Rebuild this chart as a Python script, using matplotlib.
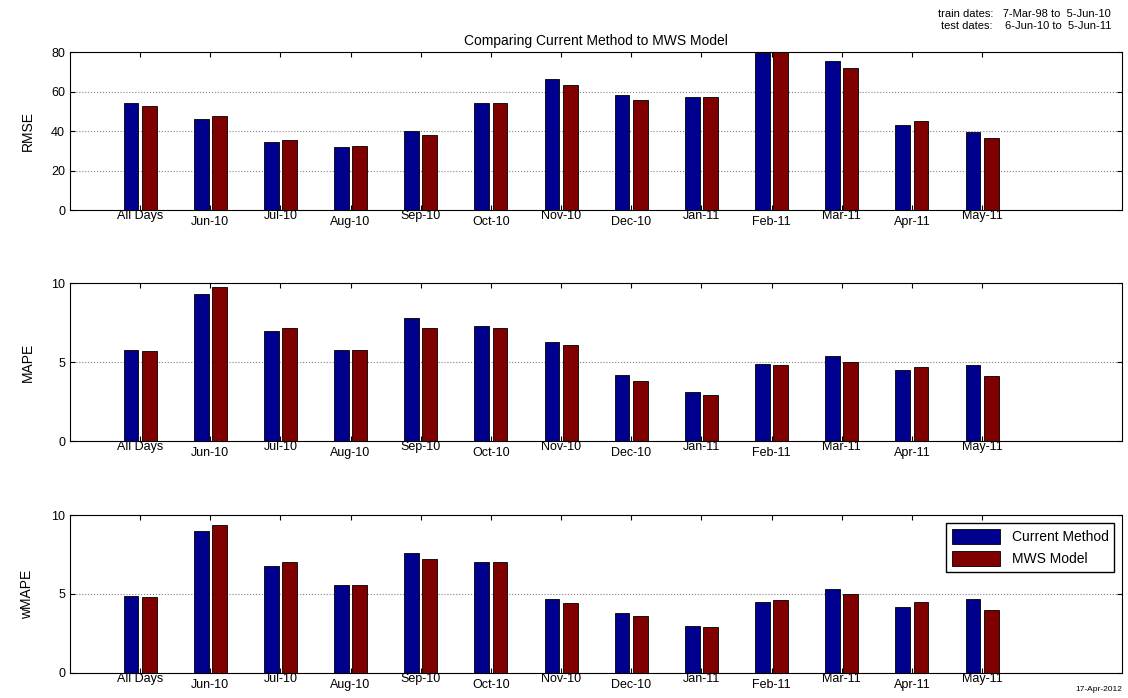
import numpy as np
import matplotlib.pyplot as plt

plt.rcParams['font.family'] = ['Liberation Sans', 'DejaVu Sans']

labels = ['All Days', 'Jun-10', 'Jul-10', 'Aug-10', 'Sep-10', 'Oct-10', 'Nov-10',
          'Dec-10', 'Jan-11', 'Feb-11', 'Mar-11', 'Apr-11', 'May-11']
rmse_cur = [54.5, 46, 34.5, 32, 40, 54.5, 66.5, 58.5, 57.5, 79.5, 75.5, 43, 39.5]
rmse_mws = [53, 47.5, 35.5, 32.5, 38, 54.5, 63.5, 56, 57.5, 80, 72, 45, 36.5]
mape_cur = [5.8, 9.3, 7.0, 5.8, 7.8, 7.3, 6.3, 4.2, 3.1, 4.9, 5.4, 4.5, 4.8]
mape_mws = [5.7, 9.8, 7.2, 5.8, 7.2, 7.2, 6.1, 3.8, 2.9, 4.8, 5.0, 4.7, 4.1]
wmape_cur = [4.9, 9.0, 6.8, 5.6, 7.6, 7.0, 4.7, 3.8, 3.0, 4.5, 5.3, 4.2, 4.7]
wmape_mws = [4.8, 9.4, 7.0, 5.6, 7.2, 7.0, 4.4, 3.6, 2.9, 4.6, 5.0, 4.5, 4.0]

blue = '#00008f'
red = '#800000'

fig = plt.figure(figsize=(11.28, 6.98), dpi=100)
x = np.arange(1, len(labels) + 1)
w = 0.21
off = 0.13

panels = [
    (rmse_cur, rmse_mws, 'RMSE', (0, 80), [0, 20, 40, 60, 80], 0.925),
    (mape_cur, mape_mws, 'MAPE', (0, 10), [0, 5, 10], 0.594),
    (wmape_cur, wmape_mws, 'wMAPE', (0, 10), [0, 5, 10], 0.262),
]
for i, (c, m, name, yl, yt, top) in enumerate(panels):
    ax = fig.add_axes([0.062, top - 0.226, 0.933, 0.226])
    ax.bar(x - off, c, w, color=blue, edgecolor='black', linewidth=0.6, label='Current Method', zorder=3)
    ax.bar(x + off, m, w, color=red, edgecolor='black', linewidth=0.6, label='MWS Model', zorder=3)
    ax.set_xlim(0, 15)
    ax.set_ylim(*yl)
    ax.set_yticks(yt)
    ax.set_ylabel(name, fontsize=10, labelpad=12)
    ax.yaxis.grid(True, linestyle=':', color='gray', linewidth=0.8)
    ax.tick_params(axis='both', labelsize=9, direction='in', right=True, top=True)
    ax.tick_params(axis='x', pad=0)
    ax.set_xticks(x)
    ax.set_xticklabels(labels)
    for k, t in enumerate(ax.get_xticklabels()):
        t.set_y(0.0 if k % 2 == 0 else -0.04)
        t.set_x(x[k] - 0.05)
    if i == 0:
        ax.set_title('Comparing Current Method to MWS Model', fontsize=10, pad=5)
    if i == 2:
        ax.legend(loc='upper right', fontsize=10, handlelength=3.5, handleheight=1.3,
                  fancybox=False, edgecolor='black', framealpha=1, borderaxespad=0.6)

fig.text(0.985, 0.975, 'train dates:   7-Mar-98 to  5-Jun-10', ha='right', fontsize=8)
fig.text(0.985, 0.958, 'test dates:    6-Jun-10 to  5-Jun-11', ha='right', fontsize=8)
fig.text(0.995, 0.01, '17-Apr-2012', ha='right', fontsize=6)

plt.savefig('out.png', dpi=100)
